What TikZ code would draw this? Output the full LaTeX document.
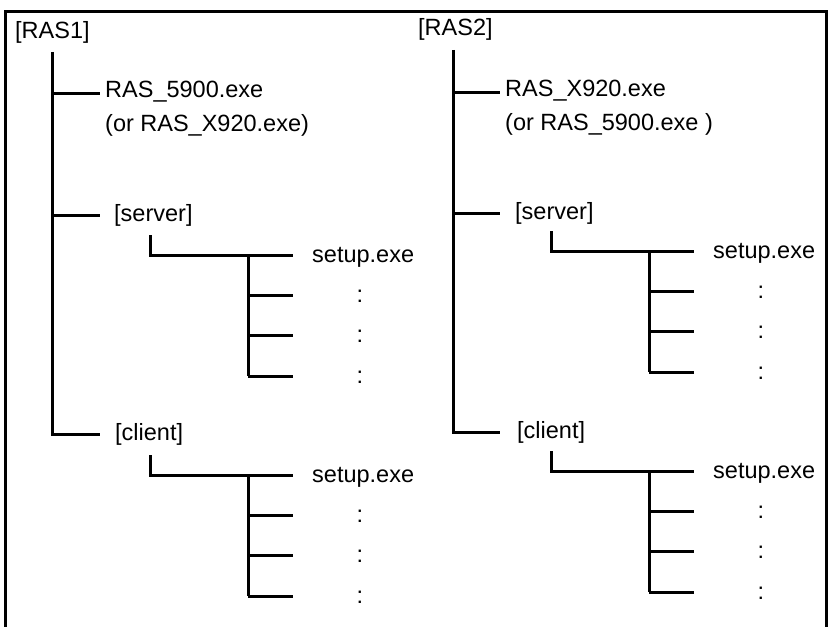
\documentclass[tikz,border=0pt]{standalone}
\usepackage{fontspec}
\setmainfont{Liberation Sans}
\tikzset{
  ln/.style={line width=3pt, line join=miter},
  frm/.style={line width=3pt, line join=miter},
  lbl/.style={anchor=base west, inner sep=0pt, font=\fontsize{23.5}{27}\selectfont},
  dotlbl/.style={anchor=base, inner sep=0pt, font=\fontsize{23.5}{27}\selectfont}
}
\newcommand\mysubtree[3]{%
\begin{scope}[shift={(#1,#2)}]
  \coordinate (#3top) at (150,-20);
  \coordinate (#3corner) at (150,0);
  \coordinate (#3split) at (248,0);
  \coordinate (#3e0) at (293,0);
  \node[lbl] (#3f0) at (312,7) {setup.exe};
  \foreach \i/\yy in {1/40,2/80,3/121} {
    \coordinate (#3j\i) at (248,\yy);
    \coordinate (#3e\i) at (293,\yy);
    \node[dotlbl] (#3f\i) at (360,\yy+7) {:};
  }
  \draw[ln] (#3top) -- (#3corner) -- (#3e0);
  \draw[ln] (#3split) -- (#3j3);
  \foreach \i in {1,2,3} \draw[ln] (#3j\i) -- (#3e\i);
\end{scope}}
\begin{document}
\begin{tikzpicture}[x=1pt,y=-1pt]
\useasboundingbox (0,0) rectangle (829,626);
% frame
\coordinate (fbl) at (5,630);
\coordinate (ftl) at (5,12);
\coordinate (ftr) at (826,12);
\coordinate (fbr) at (826,630);
\draw[frm] (fbl) -- (ftl) -- (ftr) -- (fbr);

% ---------- RAS1 ----------
\node[lbl] (ras1) at (15,38) {[RAS1]};
\node[lbl] (exe1) at (105,97) {RAS\_5900.exe};
\node[lbl] (exe1b) at (105,131) {(or RAS\_X920.exe)};
\node[lbl] (srv1) at (114,221) {[server]};
\node[lbl] (cli1) at (115,440) {[client]};
\coordinate (l0) at (52,52);
\coordinate (l1) at (52,93);
\coordinate (l1e) at (100,93);
\coordinate (l2) at (52,215);
\coordinate (l2e) at (100,215);
\coordinate (l3) at (52,434);
\coordinate (l3e) at (100,434);
\draw[ln] (l0) -- (l3) -- (l3e);
\draw[ln] (l1) -- (l1e);
\draw[ln] (l2) -- (l2e);
\mysubtree{0}{255}{ls}
\mysubtree{0}{475}{lc}

% ---------- RAS2 ----------
\node[lbl] (ras2) at (418,36) {[RAS2]};
\node[lbl] (exe2) at (505,96) {RAS\_X920.exe};
\node[lbl] (exe2b) at (505,130) {(or RAS\_5900.exe )};
\node[lbl] (srv2) at (515,219) {[server]};
\node[lbl] (cli2) at (517,438) {[client]};
\coordinate (r0) at (453,50);
\coordinate (r1) at (453,92);
\coordinate (r1e) at (500,92);
\coordinate (r2) at (453,213);
\coordinate (r2e) at (500,213);
\coordinate (r3) at (453,432);
\coordinate (r3e) at (500,432);
\draw[ln] (r0) -- (r3) -- (r3e);
\draw[ln] (r1) -- (r1e);
\draw[ln] (r2) -- (r2e);
\mysubtree{401}{251}{rs}
\mysubtree{401}{471}{rc}
\end{tikzpicture}
\end{document}
